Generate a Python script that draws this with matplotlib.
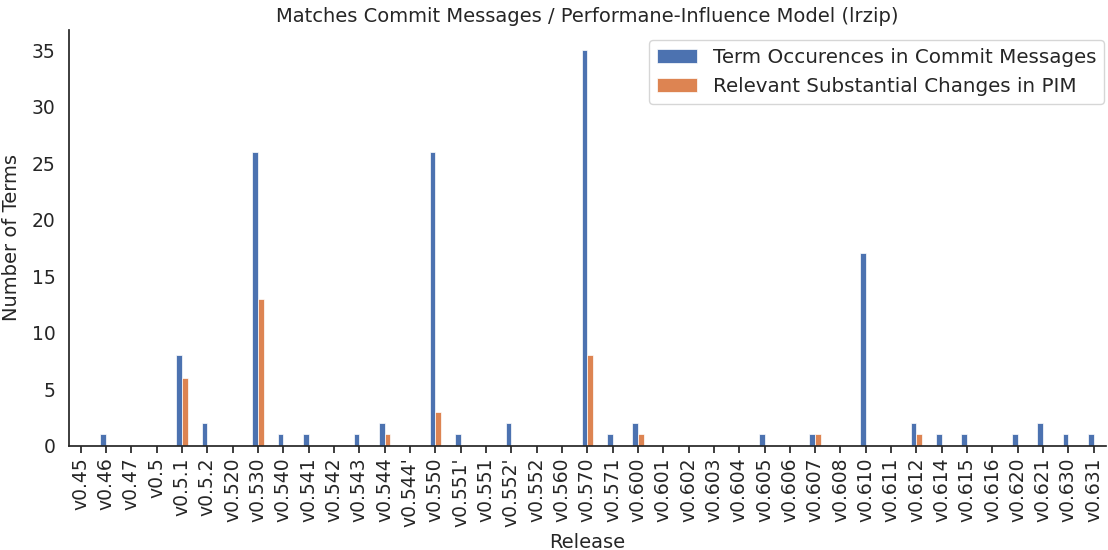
import numpy as np
import pandas as pd
import seaborn as sns
import matplotlib
matplotlib.use("Agg")
import matplotlib.pyplot as plt

releases = ["v0.45", "v0.46", "v0.47", "v0.5", "v0.5.1", "v0.5.2", "v0.520", "v0.530",
            "v0.540", "v0.541", "v0.542", "v0.543", "v0.544", "v0.544'", "v0.550",
            "v0.551'", "v0.551", "v0.552'", "v0.552", "v0.560", "v0.570", "v0.571",
            "v0.600", "v0.601", "v0.602", "v0.603", "v0.604", "v0.605", "v0.606",
            "v0.607", "v0.608", "v0.610", "v0.611", "v0.612", "v0.614", "v0.615",
            "v0.616", "v0.620", "v0.621", "v0.630", "v0.631"]
commit_terms = [0, 1, 0, 0, 8, 2, 0, 26, 1, 1, 0, 1, 2, 0, 26, 1, 0, 2, 0, 0, 35, 1,
                2, 0, 0, 0, 0, 1, 0, 1, 0, 17, 0, 2, 1, 1, 0, 1, 2, 1, 1]
pim_changes = [0, 0, 0, 0, 6, 0, 0, 13, 0, 0, 0, 0, 1, 0, 3, 0, 0, 0, 0, 0, 8, 0,
               1, 0, 0, 0, 0, 0, 0, 1, 0, 0, 0, 1, 0, 0, 0, 0, 0, 0, 0]

sns.set_theme(style="white", font_scale=1.35)
plt.rcParams['font.family'] = ['DejaVu Sans']

df = pd.DataFrame({"Term Occurences in Commit Messages": commit_terms,
                   "Relevant Substantial Changes in PIM": pim_changes}, index=releases)

fig, ax = plt.subplots(figsize=(11.08, 5.5), dpi=100)
df.plot.bar(ax=ax, width=0.45, color=["#4C72B0", "#DD8452"], edgecolor="white", linewidth=0.5)
ax.set_title("Matches Commit Messages / Performane-Influence Model (lrzip)", fontsize=14)
ax.set_xlabel("Release", fontsize=14)
ax.set_ylabel("Number of Terms", fontsize=14, labelpad=8)
ax.tick_params(axis="x", bottom=True, length=5, labelsize=13.5)
ax.tick_params(axis="y", labelsize=13.5)
ax.legend(loc="upper right", fontsize=14.3, bbox_to_anchor=(1.008, 1.0))
sns.despine(ax=ax)
fig.subplots_adjust(left=0.062, right=0.998, top=0.945, bottom=0.19)
fig.savefig("out.png")
